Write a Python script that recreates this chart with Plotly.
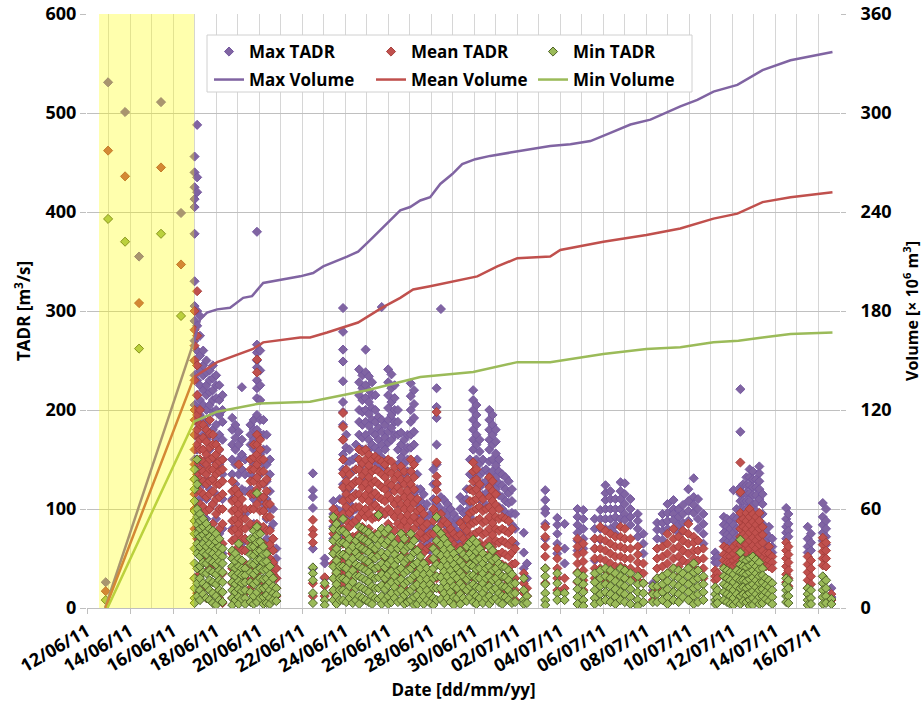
import pandas as pd
import plotly.graph_objects as go

BASE = pd.Timestamp("2011-06-12")

# ---- TADR data: (day offset from 12/06/11, [values in m3/s]) ----
max_tadr_cols = [
    (0.87, [26]), (0.98, [531]), (1.77, [501]), (2.42, [355]), (3.44, [511]), (4.37, [399]),
    (5.00, [456, 440, 425, 413, 405, 378, 330, 305, 290, 270, 250, 235, 205, 175, 150]),
    (5.12, [488, 435, 420, 300, 285, 260, 245, 230, 215, 200, 180, 160, 140, 95, 60]),
    (5.25, [295, 275, 255, 240, 225, 210, 195, 185, 170, 150, 130, 110, 75]),
    (5.40, [260, 245, 235, 220, 205, 190, 175, 160, 145, 125, 100, 80, 50]),
    (5.55, [250, 238, 225, 215, 200, 185, 170, 150, 130, 110, 90, 60]),
    (5.70, [240, 230, 218, 205, 190, 175, 160, 140, 120, 100, 70, 40]),
    (5.85, [245, 232, 220, 210, 198, 180, 165, 150, 130, 105, 85]),
    (6.00, [235, 225, 212, 200, 185, 170, 155, 140, 115, 90, 60]),
    (6.15, [225, 210, 195, 175, 160, 145, 125, 100, 75, 50]),
    (6.30, [215, 200, 188, 170, 150, 135, 110, 80, 55]),
    (6.75, [192, 180, 165, 150, 135, 110, 80, 50]),
    (6.90, [185, 172, 160, 145, 125, 100, 70, 40]),
    (7.05, [178, 165, 150, 135, 115, 90, 60]),
    (7.20, [223, 170, 155, 140, 120, 95, 65]),
    (7.35, [150, 135, 118, 95, 70, 45]),
    (7.60, [185, 175, 165, 150, 135, 120, 100]),
    (7.75, [190, 180, 170, 160, 145, 130, 110, 85]),
    (7.90, [380, 266, 258, 250, 243, 230, 222, 212, 195, 180, 160]),
    (8.05, [260, 240, 225, 210, 190, 175, 155, 135, 110]),
    (8.20, [190, 175, 160, 145, 125, 105, 80]),
    (8.35, [175, 160, 145, 128, 110, 90, 70]),
    (8.50, [150, 135, 118, 100, 80, 60, 45]),
    (8.65, [100, 85, 70, 58, 45]),
    (8.80, [60, 50, 40, 30]),
    (10.50, [136, 119, 112, 101, 60, 40]),
    (11.05, [50, 45, 30]),
    (11.45, [108, 95, 82, 70, 55]),
    (11.60, [100, 88, 75, 60, 40]),
    (11.75, [110, 98, 86, 72]),
    (11.90, [303, 279, 261, 249, 229, 208, 198, 185, 170, 155, 140, 125, 110]),
    (12.05, [175, 162, 148, 132, 118, 100]),
    (12.20, [160, 148, 135, 120, 105, 92]),
    (12.35, [150, 138, 125, 112, 98]),
    (12.50, [165, 152, 140, 128, 115, 100]),
    (12.65, [241, 228, 215, 200, 188, 175, 162, 140]),
    (12.80, [235, 222, 210, 198, 185, 172, 160, 145]),
    (12.95, [261, 238, 225, 212, 200, 188, 175, 160, 130]),
    (13.10, [234, 220, 208, 196, 184, 170, 160, 120]),
    (13.25, [228, 215, 202, 190, 178, 165, 110]),
    (13.40, [215, 200, 188, 175, 162, 148]),
    (13.55, [193, 182, 170, 158, 145, 100]),
    (13.70, [304, 190, 178, 165, 152, 140]),
    (13.85, [185, 172, 160, 148, 140, 95]),
    (14.00, [241, 228, 215, 202, 190, 178, 167]),
    (14.15, [236, 222, 208, 195, 182, 170, 120]),
    (14.30, [225, 212, 200, 188, 175]),
    (14.45, [200, 188, 175, 160, 145, 105]),
    (14.60, [177, 165, 152, 140, 126]),
    (14.75, [170, 158, 146, 134, 90]),
    (14.90, [175, 162, 150, 138, 126]),
    (15.05, [227, 214, 200, 188, 175, 162]),
    (15.20, [220, 206, 192, 178, 165, 115]),
    (15.35, [150, 135, 120, 105, 90]),
    (15.50, [120, 108, 95, 82, 70]),
    (15.65, [115, 100, 88, 75, 62]),
    (15.80, [105, 92, 80, 65]),
    (15.95, [95, 82, 70, 58]),
    (16.10, [140, 125, 110, 95, 80]),
    (16.25, [222, 203, 192, 165, 145, 125, 105]),
    (16.45, [302, 112, 100, 88, 75, 62]),
    (16.60, [109, 98, 86, 74, 62]),
    (16.75, [105, 94, 82, 70, 58]),
    (16.90, [100, 88, 76, 64]),
    (17.05, [95, 84, 72, 60, 48]),
    (17.20, [90, 78, 66, 54]),
    (17.35, [112, 100, 88, 76, 64, 52]),
    (17.50, [108, 96, 84, 72, 60]),
    (17.65, [120, 110, 98, 86, 74]),
    (17.80, [150, 135, 120, 105, 92]),
    (17.95, [220, 210, 200, 190, 180, 170, 160, 148, 135]),
    (18.10, [205, 195, 185, 175, 165, 150, 138, 125]),
    (18.25, [170, 158, 146, 134, 122, 110]),
    (18.40, [150, 138, 126, 114, 102]),
    (18.55, [140, 128, 116, 104]),
    (18.70, [200, 190, 180, 170, 160, 148, 136, 124]),
    (18.85, [195, 185, 175, 165, 150, 138, 126]),
    (19.00, [180, 168, 156, 144, 132, 120]),
    (19.15, [150, 138, 126, 114, 102]),
    (19.30, [135, 124, 112, 100]),
    (19.45, [132, 120, 108, 96]),
    (19.60, [128, 116, 106, 94]),
    (19.75, [120, 108, 96, 84]),
    (19.90, [95, 80, 65]),
    (20.30, [76, 56, 40]),
    (20.45, [45, 30]),
    (21.30, [119, 109, 100, 96, 85, 70]),
    (21.86, [91, 84, 75, 65, 55]),
    (22.20, [85, 60, 45]),
    (22.80, [100, 92, 84, 76, 68, 58]),
    (23.07, [99, 90, 80, 70, 60]),
    (23.60, [90, 80, 70, 60, 48]),
    (23.86, [99, 90, 80, 69]),
    (24.10, [124, 116, 109, 100, 90, 80]),
    (24.33, [118, 110, 100, 90, 80]),
    (24.56, [110, 100, 92, 84, 75]),
    (24.80, [127, 118, 110, 100, 90]),
    (25.00, [126, 115, 105, 95, 89]),
    (25.26, [110, 100, 92, 84]),
    (25.60, [95, 88, 80, 72]),
    (25.86, [75, 65, 55]),
    (26.30, [25, 18]),
    (26.50, [86, 79, 70, 60]),
    (26.75, [95, 86, 78, 69]),
    (26.98, [105, 96, 88, 80]),
    (27.26, [109, 100, 95, 89, 80]),
    (27.50, [100, 92, 84, 76]),
    (27.70, [104, 95, 86, 78]),
    (27.95, [120, 108, 98, 88]),
    (28.20, [131, 112, 104, 96]),
    (28.40, [110, 100, 90, 80]),
    (28.65, [95, 85, 75, 65]),
    (29.20, [56, 50, 46]),
    (29.30, [52, 46]),
    (29.60, [92, 84, 76, 68]),
    (29.75, [90, 82, 74, 66]),
    (29.90, [88, 80, 72, 64, 56]),
    (30.05, [119, 92, 84, 76, 68]),
    (30.20, [100, 90, 80, 72]),
    (30.37, [221, 178, 122, 115, 108, 100]),
    (30.50, [125, 116, 108, 100, 92, 84]),
    (30.65, [132, 124, 116, 108, 100, 92]),
    (30.80, [140, 132, 124, 116, 108, 98]),
    (30.95, [138, 130, 122, 114, 104, 96]),
    (31.10, [130, 122, 114, 106, 98]),
    (31.25, [143, 136, 128, 120, 110]),
    (31.40, [115, 105, 95, 85, 76]),
    (31.55, [76, 68, 60]),
    (31.70, [82, 72, 62, 56]),
    (31.85, [70, 62, 56]),
    (32.50, [101, 90, 82, 76, 70]),
    (32.60, [95, 85, 78, 72]),
    (33.50, [82, 70, 62, 56]),
    (33.65, [75, 66, 58]),
    (34.20, [106, 92, 84, 76, 68]),
    (34.35, [100, 88, 80, 72, 64]),
    (34.60, [20, 11]),
]

mean_tadr_cols = [
    (0.87, [17]), (0.98, [462]), (1.77, [436]), (2.42, [308]), (3.44, [445]), (4.37, [347]),
    (5.00, [300, 281, 265, 250, 230, 200, 190, 175, 160, 145, 130, 115, 100, 80, 30]),
    (5.12, [320, 275, 245, 215, 195, 180, 165, 150, 135, 120, 105, 90, 70, 15]),
    (5.25, [200, 185, 170, 160, 150, 140, 130, 118, 105, 90, 60, 35]),
    (5.40, [185, 172, 160, 148, 138, 128, 115, 102, 85, 50, 20]),
    (5.55, [180, 168, 155, 145, 135, 125, 112, 98, 75, 10]),
    (5.70, [190, 176, 162, 150, 140, 128, 115, 100, 70, 40]),
    (5.85, [175, 165, 152, 140, 130, 118, 105, 85, 60]),
    (6.00, [165, 155, 145, 135, 125, 110, 95, 70, 15]),
    (6.15, [160, 148, 138, 125, 112, 100, 80, 55, 10]),
    (6.30, [150, 140, 128, 115, 100, 85, 65, 35, 5]),
    (6.75, [128, 118, 108, 98, 88, 78, 68, 55, 40, 25, 10]),
    (6.90, [120, 110, 100, 90, 80, 70, 58, 45, 30, 15]),
    (7.05, [145, 115, 105, 95, 85, 75, 62, 48, 32, 18, 5]),
    (7.20, [110, 100, 90, 80, 70, 58, 44, 28, 12]),
    (7.35, [100, 90, 80, 70, 58, 45, 30, 15]),
    (7.60, [150, 140, 128, 115, 100, 85, 65, 40, 20]),
    (7.75, [165, 152, 140, 128, 115, 100, 80, 55, 30, 8]),
    (7.90, [251, 238, 175, 165, 155, 145, 132, 120, 105, 85, 60, 35, 12]),
    (8.05, [170, 160, 150, 138, 125, 112, 98, 80, 60, 40, 15]),
    (8.20, [150, 138, 126, 112, 98, 82, 65, 45, 25]),
    (8.35, [130, 118, 105, 92, 78, 62, 45, 28, 10]),
    (8.50, [105, 92, 78, 64, 50, 36, 22]),
    (8.65, [70, 58, 46, 34, 22, 12]),
    (8.80, [40, 30, 20, 12]),
    (10.50, [89, 79, 74, 66, 25, 12]),
    (11.05, [31, 22, 12]),
    (11.45, [100, 88, 75, 60, 45, 30, 15]),
    (11.60, [95, 82, 68, 52, 35, 20]),
    (11.75, [92, 80, 66, 50, 35, 18]),
    (11.90, [197, 183, 170, 150, 136, 122, 108, 95, 80, 65, 45, 25]),
    (12.05, [140, 128, 115, 102, 88, 72, 55, 35]),
    (12.20, [135, 122, 110, 96, 82, 66, 48, 30]),
    (12.35, [125, 112, 100, 86, 72, 56, 40, 20]),
    (12.50, [140, 128, 115, 102, 88, 72, 55, 35]),
    (12.65, [160, 150, 140, 128, 115, 102, 92, 75, 55]),
    (12.80, [158, 146, 134, 122, 110, 96, 82, 65]),
    (12.95, [160, 150, 138, 126, 114, 100, 92, 70, 45]),
    (13.10, [155, 144, 132, 120, 108, 95, 80, 60]),
    (13.25, [150, 138, 126, 114, 102, 90, 72, 50]),
    (13.40, [153, 140, 128, 116, 104, 92, 75, 55]),
    (13.55, [150, 138, 125, 112, 100, 92, 70, 40]),
    (13.70, [148, 135, 122, 110, 98, 80, 55]),
    (13.85, [145, 132, 120, 108, 95, 75, 50, 25]),
    (14.00, [150, 138, 126, 114, 100, 85, 65, 40]),
    (14.15, [148, 136, 124, 110, 96, 80, 60, 35]),
    (14.30, [142, 130, 118, 105, 92, 78, 58, 30]),
    (14.45, [135, 122, 110, 98, 85, 70, 50, 25]),
    (14.60, [143, 130, 118, 105, 92, 82, 60, 35]),
    (14.75, [138, 125, 112, 100, 88, 75, 55, 20]),
    (14.90, [130, 118, 106, 94, 82, 65, 40]),
    (15.05, [150, 138, 125, 112, 100, 88, 70, 45]),
    (15.20, [145, 132, 120, 106, 92, 80, 60, 30]),
    (15.35, [110, 98, 86, 72, 58, 40, 20]),
    (15.50, [100, 88, 76, 62, 48, 30, 12]),
    (15.65, [95, 82, 70, 56, 42, 25, 10]),
    (15.80, [85, 72, 60, 46, 32, 18]),
    (15.95, [75, 62, 50, 38, 25, 12]),
    (16.10, [100, 88, 75, 62, 48, 34, 20]),
    (16.25, [198, 147, 133, 126, 119, 109, 95, 80, 65, 48, 30]),
    (16.45, [95, 84, 72, 60, 46, 32, 18]),
    (16.60, [88, 76, 64, 52, 40, 28, 15]),
    (16.75, [85, 72, 60, 48, 36, 24, 12]),
    (16.90, [80, 68, 56, 44, 32, 20, 8]),
    (17.05, [75, 64, 52, 40, 28, 16, 5]),
    (17.20, [72, 60, 48, 36, 24, 12]),
    (17.35, [86, 74, 62, 50, 38, 26, 14]),
    (17.50, [82, 70, 58, 46, 34, 22, 10]),
    (17.65, [90, 78, 66, 54, 42, 30, 18]),
    (17.80, [120, 108, 96, 84, 72, 60, 46, 32]),
    (17.95, [147, 138, 128, 118, 108, 98, 86, 74, 60, 46, 30]),
    (18.10, [140, 130, 120, 110, 100, 88, 76, 62, 48, 32]),
    (18.25, [125, 114, 102, 90, 78, 66, 52, 38, 22]),
    (18.40, [110, 98, 86, 74, 62, 50, 36, 22]),
    (18.55, [100, 88, 76, 64, 52, 40, 26, 12]),
    (18.70, [132, 122, 112, 102, 92, 80, 68, 55, 40, 25]),
    (18.85, [128, 118, 108, 98, 86, 74, 62, 48, 34]),
    (19.00, [115, 104, 92, 80, 68, 55, 42, 28]),
    (19.15, [100, 90, 78, 66, 54, 42, 30, 18]),
    (19.30, [92, 80, 68, 56, 44, 32, 20]),
    (19.45, [90, 78, 66, 54, 42, 30, 18]),
    (19.60, [88, 76, 64, 52, 38, 25, 12]),
    (19.75, [80, 68, 56, 44, 32, 20, 8]),
    (19.90, [60, 45, 30, 18, 8]),
    (20.30, [35, 25, 15]),
    (20.45, [20, 12]),
    (21.30, [82, 72, 62, 52, 40, 25]),
    (21.86, [60, 50, 40, 30, 18]),
    (22.20, [30, 20]),
    (22.80, [70, 62, 54, 45, 36, 26]),
    (23.07, [65, 56, 47, 38, 28, 18]),
    (23.60, [70, 60, 50, 40, 30]),
    (23.86, [82, 70, 60, 50, 40]),
    (24.10, [78, 68, 58, 48, 38, 28]),
    (24.33, [75, 65, 55, 45, 35]),
    (24.56, [72, 62, 52, 42, 32]),
    (24.80, [82, 72, 62, 52, 42]),
    (25.00, [80, 70, 60, 50, 40]),
    (25.26, [70, 60, 50, 40, 30]),
    (25.60, [62, 54, 46, 38, 28]),
    (25.86, [45, 35, 25]),
    (26.30, [15, 8]),
    (26.50, [60, 50, 40, 30, 20]),
    (26.75, [62, 52, 42, 32]),
    (26.98, [75, 65, 55, 45, 35]),
    (27.26, [80, 70, 60, 50, 40]),
    (27.50, [72, 62, 52, 42, 32]),
    (27.70, [78, 68, 58, 48]),
    (27.95, [85, 75, 65, 55, 45]),
    (28.20, [72, 66, 58, 50, 40]),
    (28.40, [68, 58, 48, 38]),
    (28.65, [60, 50, 40, 30]),
    (29.20, [38, 32, 28]),
    (29.30, [35, 30]),
    (29.60, [62, 54, 48, 42]),
    (29.75, [60, 52, 46, 40]),
    (29.90, [58, 52, 46, 42]),
    (30.05, [62, 55, 48, 42]),
    (30.20, [65, 58, 50, 44]),
    (30.37, [147, 117, 96, 88, 80, 72, 64, 56, 48]),
    (30.50, [90, 82, 74, 66, 58, 50, 42]),
    (30.65, [96, 88, 80, 72, 64, 56, 48]),
    (30.80, [100, 92, 84, 76, 68, 60, 50]),
    (30.95, [95, 87, 79, 71, 63, 55, 47]),
    (31.10, [92, 84, 76, 68, 60, 52, 44]),
    (31.25, [96, 88, 80, 72, 64, 56, 46]),
    (31.40, [82, 74, 66, 58, 50, 42]),
    (31.55, [55, 48, 42]),
    (31.70, [62, 55, 48, 42]),
    (31.85, [52, 46, 40]),
    (32.50, [66, 58, 50, 42, 34, 26]),
    (32.60, [62, 54, 46, 38, 30, 22]),
    (33.50, [52, 44, 36, 28, 20]),
    (33.65, [48, 40, 32, 24]),
    (34.20, [71, 64, 57, 50, 43]),
    (34.35, [66, 58, 50, 42]),
    (34.60, [14, 8]),
]

min_tadr_cols = [
    (0.87, [8]), (0.98, [393]), (1.77, [370]), (2.42, [262]), (3.44, [378]), (4.37, [295]),
    (5.00, [140, 130, 120, 108, 98, 88, 75, 60, 45, 30, 20, 10, 5]),
    (5.12, [150, 125, 100, 92, 84, 75, 65, 55, 40, 25, 12]),
    (5.25, [95, 88, 80, 72, 62, 52, 42, 30, 18, 8]),
    (5.40, [90, 82, 74, 65, 56, 46, 36, 25, 14]),
    (5.55, [85, 77, 70, 62, 54, 45, 35, 22, 10]),
    (5.70, [80, 72, 65, 57, 48, 38, 28, 18, 8]),
    (5.85, [78, 70, 62, 55, 46, 36, 26, 15, 5]),
    (6.00, [75, 67, 60, 52, 44, 34, 24, 12, 3]),
    (6.15, [70, 62, 55, 47, 38, 28, 18, 8]),
    (6.30, [60, 52, 45, 36, 26, 16, 6]),
    (6.75, [58, 50, 42, 34, 26, 18, 10, 3]),
    (6.90, [55, 47, 40, 32, 24, 16, 8]),
    (7.05, [65, 50, 42, 35, 27, 19, 11, 4]),
    (7.20, [48, 40, 33, 25, 17, 9]),
    (7.35, [40, 33, 26, 18, 10, 4]),
    (7.60, [70, 62, 54, 45, 36, 26, 16, 6]),
    (7.75, [78, 70, 62, 53, 44, 34, 24, 12, 4]),
    (7.90, [116, 82, 74, 66, 57, 48, 38, 27, 16, 6]),
    (8.05, [75, 67, 58, 49, 40, 30, 20, 10]),
    (8.20, [62, 54, 46, 38, 29, 20, 11, 4]),
    (8.35, [55, 47, 39, 30, 22, 13, 5]),
    (8.50, [42, 34, 26, 18, 10, 4]),
    (8.65, [30, 22, 15, 8]),
    (8.80, [20, 13, 7]),
    (10.50, [41, 35, 28, 15, 5]),
    (11.05, [25, 15, 8, 3]),
    (11.45, [92, 80, 68, 55, 42, 30, 18, 8]),
    (11.60, [85, 72, 60, 48, 36, 24, 12, 4]),
    (11.75, [78, 66, 54, 42, 30, 18, 8]),
    (11.90, [90, 78, 66, 54, 42, 30, 18, 8]),
    (12.05, [75, 64, 52, 40, 28, 16, 6]),
    (12.20, [70, 58, 46, 34, 22, 10]),
    (12.35, [62, 50, 38, 26, 14, 5]),
    (12.50, [68, 56, 44, 32, 20, 8]),
    (12.65, [82, 72, 62, 52, 42, 32, 22, 12, 4]),
    (12.80, [80, 70, 60, 50, 40, 30, 20, 10]),
    (12.95, [78, 68, 58, 48, 38, 28, 18, 8]),
    (13.10, [76, 66, 56, 46, 36, 26, 16, 6]),
    (13.25, [72, 62, 52, 42, 32, 22, 12, 4]),
    (13.40, [70, 60, 50, 40, 30, 20, 10]),
    (13.55, [94, 75, 64, 53, 42, 31, 20, 9]),
    (13.70, [80, 68, 56, 45, 34, 23, 12, 4]),
    (13.85, [76, 64, 52, 41, 30, 19, 8]),
    (14.00, [80, 68, 56, 45, 34, 23, 12, 4]),
    (14.15, [72, 60, 48, 37, 26, 15, 6]),
    (14.30, [65, 54, 43, 32, 21, 10]),
    (14.45, [60, 49, 38, 27, 16, 6]),
    (14.60, [75, 63, 51, 40, 29, 18, 8]),
    (14.75, [70, 58, 46, 35, 24, 13, 4]),
    (14.90, [62, 50, 38, 27, 16, 6]),
    (15.05, [75, 63, 51, 40, 29, 18, 8]),
    (15.20, [68, 56, 44, 33, 22, 11, 3]),
    (15.35, [58, 46, 35, 24, 13, 4]),
    (15.50, [52, 40, 29, 18, 8]),
    (15.65, [45, 34, 23, 12, 4]),
    (15.80, [40, 29, 18, 8]),
    (15.95, [35, 24, 13, 5]),
    (16.10, [60, 50, 40, 30, 20, 10, 3]),
    (16.25, [92, 80, 68, 56, 44, 32, 20, 8]),
    (16.45, [75, 64, 53, 42, 31, 20, 9]),
    (16.60, [70, 59, 48, 37, 26, 15, 5]),
    (16.75, [65, 54, 43, 32, 21, 10]),
    (16.90, [60, 49, 38, 27, 16, 6]),
    (17.05, [55, 44, 33, 22, 11, 3]),
    (17.20, [50, 40, 30, 20, 10]),
    (17.35, [58, 47, 36, 25, 14, 4]),
    (17.50, [54, 43, 32, 21, 10]),
    (17.65, [62, 51, 40, 29, 18, 7]),
    (17.80, [66, 55, 44, 33, 22, 11]),
    (17.95, [69, 60, 51, 42, 33, 24, 15, 6]),
    (18.10, [66, 57, 48, 39, 30, 21, 12, 4]),
    (18.25, [60, 50, 40, 30, 20, 10]),
    (18.40, [55, 45, 35, 25, 15, 5]),
    (18.55, [50, 40, 30, 20, 10]),
    (18.70, [62, 52, 42, 32, 22, 12, 4]),
    (18.85, [58, 48, 38, 28, 18, 8]),
    (19.00, [50, 40, 30, 20, 10]),
    (19.15, [45, 35, 25, 15, 6]),
    (19.30, [42, 32, 22, 12, 4]),
    (19.45, [41, 31, 21, 11]),
    (19.60, [38, 28, 18, 8]),
    (19.75, [34, 24, 14, 5]),
    (19.90, [25, 15, 6]),
    (20.30, [30, 18, 8, 4]),
    (20.45, [12, 5]),
    (21.30, [40, 32, 24, 15, 8, 3]),
    (21.86, [35, 25, 15, 8]),
    (22.20, [15, 8]),
    (22.80, [35, 27, 19, 11, 4]),
    (23.07, [32, 24, 16, 8, 2]),
    (23.60, [35, 26, 18, 10, 4]),
    (23.86, [38, 30, 22, 14, 6]),
    (24.10, [40, 32, 24, 16, 8]),
    (24.33, [38, 30, 22, 14, 6]),
    (24.56, [35, 27, 19, 11, 4]),
    (24.80, [40, 32, 24, 16, 8]),
    (25.00, [38, 30, 22, 14, 6]),
    (25.26, [35, 27, 19, 11, 4]),
    (25.60, [32, 24, 16, 8, 2]),
    (25.86, [25, 15, 6]),
    (26.30, [22, 14, 6]),
    (26.50, [30, 22, 14, 6]),
    (26.75, [32, 24, 16, 8]),
    (26.98, [35, 27, 19, 11, 4]),
    (27.26, [40, 32, 24, 16, 8]),
    (27.50, [38, 30, 22, 14, 6]),
    (27.70, [35, 27, 19, 11]),
    (27.95, [40, 32, 24, 16, 8]),
    (28.20, [45, 36, 28, 20, 12, 4]),
    (28.40, [38, 30, 22, 14, 6]),
    (28.65, [32, 24, 16, 8]),
    (29.20, [21, 14, 8, 4]),
    (29.30, [18, 10, 5]),
    (29.60, [40, 32, 24, 16, 8]),
    (29.75, [38, 30, 22, 14, 6]),
    (29.90, [36, 28, 20, 12, 4]),
    (30.05, [34, 26, 18, 10, 3]),
    (30.20, [38, 30, 22, 14, 6]),
    (30.37, [69, 56, 44, 36, 28, 20, 12, 4]),
    (30.50, [49, 42, 35, 28, 21, 14, 7]),
    (30.65, [48, 41, 34, 27, 20, 13, 6]),
    (30.80, [50, 43, 36, 29, 22, 15, 8, 2]),
    (30.95, [52, 45, 38, 31, 24, 17, 10, 3]),
    (31.10, [49, 42, 35, 28, 21, 14, 7]),
    (31.25, [46, 39, 32, 25, 18, 11, 4]),
    (31.40, [40, 33, 26, 19, 12, 5]),
    (31.55, [30, 23, 16, 9]),
    (31.70, [28, 21, 14, 7]),
    (31.85, [25, 18, 11, 4]),
    (32.50, [30, 24, 18, 12, 6]),
    (32.60, [28, 20, 12, 5]),
    (33.50, [20, 14, 8, 3]),
    (33.65, [18, 10, 4]),
    (34.20, [32, 25, 18, 11, 4]),
    (34.35, [28, 20, 12, 5]),
    (34.60, [9, 4]),
]

# ---- Cumulative volume (10^6 m3) ----
vol_max_days = [0.84, 4.98, 5.26, 5.58, 6.05, 6.65, 7.26, 7.67, 8.19, 8.98, 9.91, 10.51, 10.98,
                12.09, 12.60, 13.16, 13.63, 14.09, 14.56, 15.02, 15.49, 15.95, 16.42, 16.98,
                17.44, 18.05, 18.74, 19.67, 20.60, 21.53, 22.47, 23.40, 24.33, 25.26, 26.19,
                26.88, 27.58, 28.37, 29.12, 30.23, 31.40, 32.70, 33.95, 34.65]
vol_max = [0, 162, 175, 179, 181, 182, 188, 189, 197, 199, 201, 203, 207,
           213, 216, 223, 229, 235, 241, 243, 247, 249, 257, 263,
           269, 272, 274, 276, 278, 280, 281, 283, 288, 293, 296,
           300, 304, 308, 313, 317, 326, 332, 335, 337]

vol_mean_days = [0.86, 4.98, 6.05, 7.72, 8.19, 9.91, 10.37, 11.16, 12.60, 13.72, 14.56, 15.16,
                 15.95, 17.02, 18.14, 19.07, 20.00, 21.53, 22.00, 24.00, 26.00, 27.58, 29.12,
                 30.23, 31.40, 32.70, 34.65]
vol_mean = [0, 140, 149, 157, 161, 164, 164, 167, 173, 182, 188, 193,
            195, 198, 201, 207, 212, 213, 217, 222, 226, 230, 236,
            239, 246, 249, 252]

vol_min_days = [0.95, 4.98, 6.05, 8.05, 10.37, 11.44, 13.02, 14.56, 15.49, 17.95, 20.00,
                21.53, 24.00, 26.00, 27.58, 29.12, 30.28, 31.40, 32.70, 34.65]
vol_min = [0, 113, 119, 124, 125, 128, 132, 137, 140, 143, 149,
           149, 154, 157, 158, 161, 162, 164, 166, 167]

SHADE_START, SHADE_END = 0.56, 4.98
DAY_END = 35


def to_dates(days):
    return [BASE + pd.Timedelta(days=d) for d in days]


def expand(cols):
    xs, ys = [], []
    for d, vals in cols:
        for v in vals:
            xs.append(BASE + pd.Timedelta(days=d))
            ys.append(v)
    return xs, ys


PURPLE, RED, GREEN = "#8064A2", "#C0504D", "#9BBB59"

fig = go.Figure()
for name, cols, fill, edge in [
    ("Max TADR", max_tadr_cols, PURPLE, "#7558a0"),
    ("Mean TADR", mean_tadr_cols, RED, "#a8403d"),
    ("Min TADR", min_tadr_cols, GREEN, "#4F6228"),
]:
    xs, ys = expand(cols)
    fig.add_trace(go.Scatter(
        x=xs, y=ys, mode="markers", name=name, legend="legend",
        marker=dict(symbol="diamond", size=7, color=fill, line=dict(color=edge, width=1)),
    ))

for name, days, vals, col in [
    ("Max Volume", vol_max_days, vol_max, PURPLE),
    ("Mean Volume", vol_mean_days, vol_mean, RED),
    ("Min Volume", vol_min_days, vol_min, GREEN),
]:
    fig.add_trace(go.Scatter(
        x=to_dates(days), y=vals, mode="lines", name=name, legend="legend2",
        yaxis="y2", line=dict(color=col, width=2.5),
    ))

PL, PR, PT, PB = 87, 840, 14, 608
pw, ph = PR - PL, PB - PT


def px_x(p):
    return (p - PL) / pw


def px_y(p):
    return (PB - p) / ph


fig.add_shape(type="rect", xref="x", yref="paper",
              x0=BASE + pd.Timedelta(days=SHADE_START), x1=BASE + pd.Timedelta(days=SHADE_END),
              y0=0, y1=1, fillcolor="rgba(255,255,0,0.32)", line=dict(width=0), layer="above")
fig.add_shape(type="rect", xref="paper", yref="paper",
              x0=px_x(207), x1=px_x(692), y0=px_y(92), y1=px_y(35),
              fillcolor="white", line=dict(color="#d0d0d0", width=1), layer="above")

grid_v = "#d6d6d6"
grid_h = "#c0c0c0"
fig.update_layout(
    width=923, height=708,
    margin=dict(l=PL, r=923 - PR, t=PT, b=708 - PB, autoexpand=False),
    paper_bgcolor="white", plot_bgcolor="white",
    font=dict(family="Open Sans", size=16, color="black", weight="bold"),
    showlegend=True,
    xaxis=dict(
        type="date", range=[BASE, BASE + pd.Timedelta(days=DAY_END)],
        tick0=BASE, dtick=2 * 86400000, tickformat="%d/%m/%y", tickangle=-30,
        ticks="outside", ticklen=5, tickcolor="#bfbfbf",
        showgrid=True, gridcolor=grid_v, gridwidth=1,
        minor=dict(dtick=86400000, showgrid=True, gridcolor=grid_v, ticks=""),
        showline=True, linecolor="#bfbfbf", zeroline=False, automargin=False,
        title=dict(text="Date [dd/mm/yy]", font=dict(size=17), standoff=8),
        tickfont=dict(size=18),
    ),
    yaxis=dict(
        range=[0, 600], dtick=100, ticks="outside", ticklen=6, tickcolor="#bfbfbf",
        showgrid=True, gridcolor=grid_h, zeroline=False, showline=False, automargin=False,
        title=dict(text="TADR [m<sup>3</sup>/s]", font=dict(size=17), standoff=10),
        tickfont=dict(size=18),
    ),
    yaxis2=dict(
        range=[0, 360], dtick=60, overlaying="y", side="right",
        ticks="outside", ticklen=5, tickcolor="#bfbfbf", showgrid=False, zeroline=False,
        ticklabelstandoff=11, automargin=False,
        title=dict(text="Volume [× 10<sup>6</sup> m<sup>3</sup>]", font=dict(size=16), standoff=16),
        tickfont=dict(size=18),
    ),
    legend=dict(orientation="h", x=px_x(209), xanchor="left", y=px_y(34), yanchor="top",
                entrywidth=117, bgcolor="rgba(0,0,0,0)", font=dict(size=17)),
    legend2=dict(orientation="h", x=px_x(209), xanchor="left", y=px_y(62), yanchor="top",
                 entrywidth=117, bgcolor="rgba(0,0,0,0)", font=dict(size=17)),
)

fig.write_html("out.html", config={"displayModeBar": False},
               post_script="document.body.style.margin='0px';")
